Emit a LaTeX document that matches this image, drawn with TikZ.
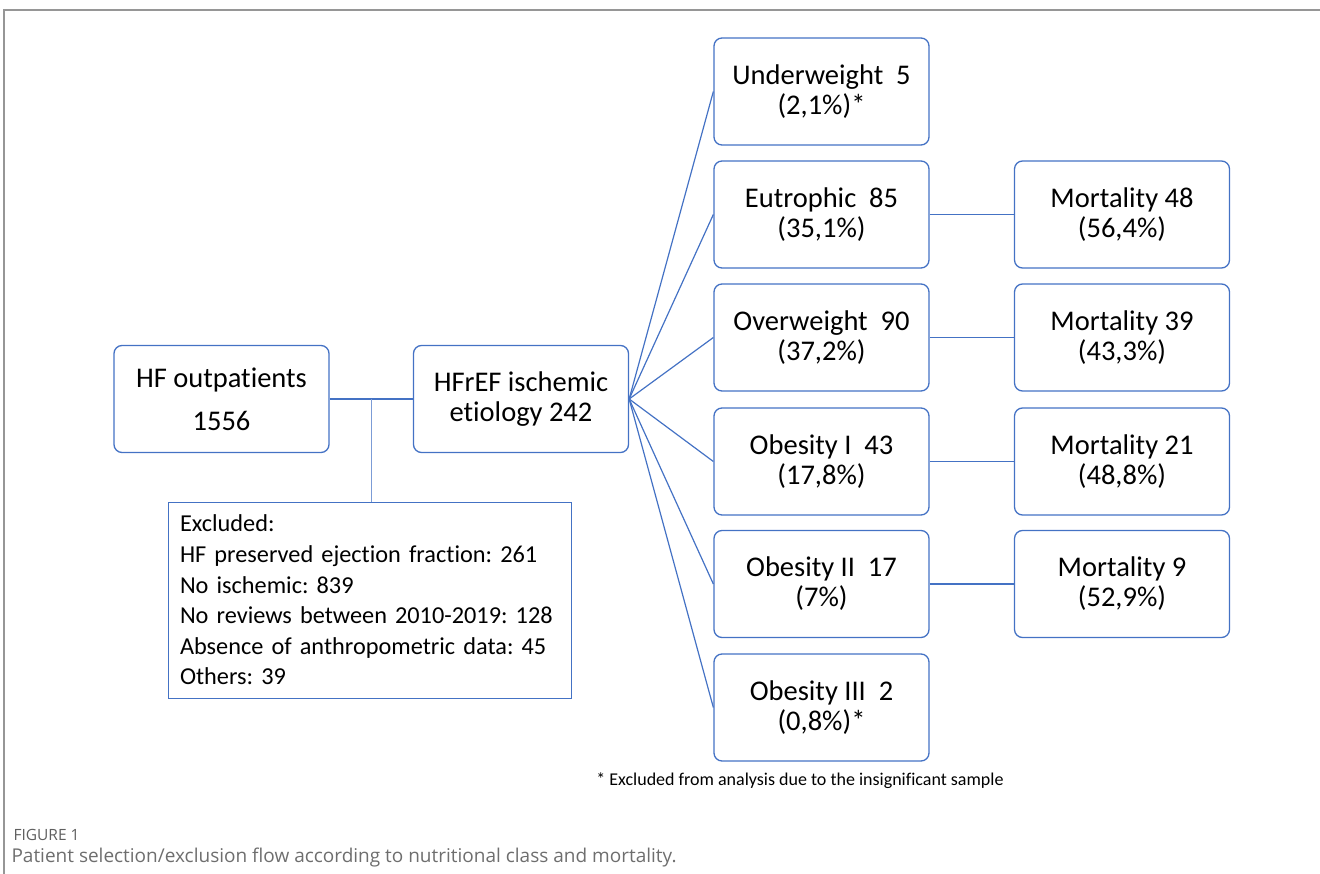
\documentclass[tikz,border=0pt]{standalone}
\usepackage{fontspec}
\setmainfont{Carlito}[Ligatures=NoCommon]
\newfontfamily\capfont{Open Sans}
\definecolor{boxblue}{RGB}{68,114,196}
\definecolor{framegray}{RGB}{150,150,150}
\definecolor{capgray}{RGB}{110,110,110}
\definecolor{figgray}{RGB}{95,95,95}
\begin{document}
\frenchspacing
\begin{tikzpicture}[x=1pt,y=-1pt,
  stagebox/.style={draw=boxblue, line width=1.3pt, rounded corners=8pt,
    minimum width=215pt, minimum height=107pt, align=center, inner sep=0pt,
    font=\fontsize{28.5}{30}\selectfont},
  link/.style={draw=boxblue, line width=1.2pt}
]
\useasboundingbox (0,0) rectangle (1320,874);
% frame
\draw[framegray, line width=1.2pt] (4,874) -- (4,10) -- (1320,10);

% left boxes
\node[stagebox] (hf) at (221.5,399) {HF outpatients\\[13pt]1556};
\node[stagebox] (hfref) at (521,399) {HFrEF ischemic\\etiology 242};

% excluded box
\node[draw=boxblue, line width=1pt, minimum width=403pt, minimum height=196pt,
  text width=379pt, inner sep=0pt, align=left,
  font=\fontsize{24.3}{30.6}\selectfont] (excl) at (369.5,600)
  {Excluded:\\HF preserved ejection fraction: 261\\No ischemic: 839\\No reviews between 2010-2019: 128\\Absence of anthropometric data: 45\\Others: 39};

% class boxes
\node[stagebox] (under) at (821.5,91.5) {Underweight\ \ 5\\(2,1\%)*};
\node[stagebox] (eutro) at (821.5,214.5) {Eutrophic\ \ 85\\(35,1\%)};
\node[stagebox] (over) at (821.5,337.5) {Overweight\ \ 90\\(37,2\%)};
\node[stagebox] (ob1) at (821.5,461.5) {Obesity I\ \ 43\\(17,8\%)};
\node[stagebox] (ob2) at (821.5,584) {Obesity II\ \ 17\\(7\%)};
\node[stagebox] (ob3) at (821.5,707.5) {Obesity III\ \ 2\\(0,8\%)*};

% mortality boxes
\node[stagebox] (m1) at (1122,214.5) {Mortality 48\\(56,4\%)};
\node[stagebox] (m2) at (1122,337.5) {Mortality 39\\(43,3\%)};
\node[stagebox] (m3) at (1122,461.5) {Mortality 21\\(48,8\%)};
\node[stagebox] (m4) at (1122,584) {Mortality 9\\(52,9\%)};

% connectors
\draw[link, line width=1.4pt] (hf.east) -- (hfref.west);
\coordinate (split) at (371,399);
\draw[boxblue!70, line width=0.8pt] (split) -- (split |- excl.north);
\foreach \t in {under,eutro,over,ob1,ob2,ob3}
  \draw[link] (hfref.east) -- (\t.west);
\draw[link] (eutro.east) -- (m1.west);
\draw[link] (over.east) -- (m2.west);
\draw[link] (ob1.east) -- (m3.west);
\draw[link] (ob2.east) -- (m4.west);

% footnote
\node[anchor=center, font=\fontsize{18}{20}\selectfont] (foot) at (800,781)
  {* Excluded from analysis due to the insignificant sample};

% caption
\node[anchor=west, text=figgray, font=\capfont\fontsize{15.5}{18}\selectfont] (fig) at (10,835) {FIGURE 1};
\node[anchor=west, text=capgray, font=\capfont\fontsize{19}{22}\selectfont] (cap) at (8,858)
  {Patient selection/exclusion flow according to nutritional class and mortality.};
\end{tikzpicture}
\end{document}
